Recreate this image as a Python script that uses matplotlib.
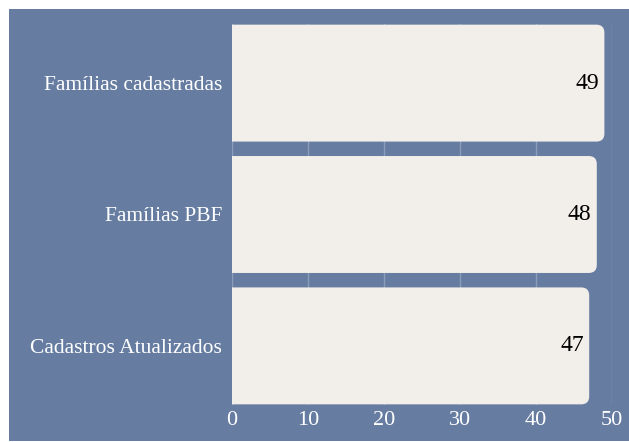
import matplotlib.pyplot as plt
from matplotlib.patches import FancyBboxPatch, Rectangle

# Cadastro figures
categorias = ['Famílias cadastradas', 'Famílias PBF', 'Cadastros Atualizados']
valores = [49, 48, 47]
ticks_x = [0, 10, 20, 30, 40, 50]

fundo = '#667DA1'
cor_barra = '#F2EFEA'
grade = '#8B9DBA'

plt.rcParams['font.family'] = ['Liberation Serif', 'DejaVu Serif']

fig = plt.figure(figsize=(6.29, 4.42), dpi=100)
fig.patch.set_facecolor('white')
# blue panel leaving a thin white margin on top and left
fig.patches.append(Rectangle((9 / 629, 1 / 442), 1 - 9 / 629, 1 - 10 / 442,
                             transform=fig.transFigure, facecolor=fundo,
                             edgecolor='none', zorder=-5))

ax = fig.add_axes([232 / 629, 1 - 405 / 442, 380 / 629, 381 / 442])
ax.set_facecolor(fundo)
ax.set_xlim(0, 50)
ax.set_ylim(2.45, -0.45)

altura = 0.89
raio = 1.05
for i, v in enumerate(valores):
    caixa = FancyBboxPatch((-3, i - altura / 2), v + 3, altura,
                           boxstyle=f'round,pad=0,rounding_size={raio}',
                           mutation_aspect=0.058,
                           facecolor=cor_barra, edgecolor='none', zorder=2)
    ax.add_patch(caixa)
    ax.annotate(str(v), (v, i), xytext=(-4, 0), textcoords='offset points',
                ha='right', va='center', fontsize=17, color='black', zorder=3)

ax.set_xticks(ticks_x)
ax.set_yticks(range(len(categorias)))
ax.set_yticklabels(categorias, fontsize=15.5)
ax.tick_params(axis='both', length=0, colors='white')
ax.tick_params(axis='x', labelsize=16, pad=4)
ax.tick_params(axis='y', pad=7)
ax.grid(axis='x', color=grade, linewidth=1, zorder=1)
ax.set_axisbelow(True)
for s in ax.spines.values():
    s.set_visible(False)

fig.savefig('out.png', dpi=100, facecolor=fig.get_facecolor())
